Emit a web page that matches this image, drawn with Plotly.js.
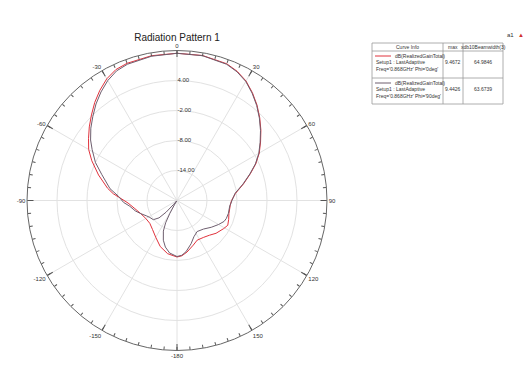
<!DOCTYPE html>
<html><head><meta charset="utf-8">
<script src="https://cdn.plot.ly/plotly-3.0.1.min.js"></script>
<style>html,body{margin:0;padding:0;background:#fff}#chart{width:532px;height:369px}</style>
</head><body><div id="chart"></div>
<script>
// ---- data (theta in degrees, gain in dB) ----
const thetaPhi0 = [-180,-170,-160,-150,-140,-130,-120,-110,-100,-93,-88,-84,-80,-72,-65,-60,-55,-50,-45,-40,-35,-30,-25,-20,-10,0,10,20,25,30,35,40,45,50,55,60,65,70,76,83,90,95,104,110,116,121,130,137,144,153,160,169,175,180];
const gainPhi0  = [-8.7,-9.2,-10.2,-11.5,-12.4,-12.9,-12.8,-12.3,-11.3,-10.2,-8.8,-7.2,-5.9,-3.5,-1.2,0.4,1.6,2.9,4.2,5.6,6.9,8.1,8.9,9.2,9.4,9.45,9.45,9.1,8.5,7.6,6.3,4.9,3.4,1.9,0.4,-1.0,-2.6,-4.4,-6.3,-8.2,-9.1,-9.3,-9.3,-9.0,-8.7,-9.1,-9.8,-10.5,-10.9,-11.1,-10.5,-9.5,-8.9,-8.7];

const thetaPhi90 = [-180,-172,-166,-161,-156,-153,-151,-149,-146,-142,-139,-137,-134,-129,-122,-117,-110,-104,-97,-92,-86,-80,-71,-65,-59,-55,-50,-45,-40,-35,-30,-25,-20,-10,0,10,20,25,30,35,40,45,50,55,60,65,70,76,83,90,96,104,110,114,120,128,137,147,155,162,170,175,180];
const gainPhi90  = [-8.8,-9.4,-10.4,-11.6,-13.3,-15.0,-17.0,-19.0,-19.9,-19.9,-19.0,-16.8,-15.0,-13.9,-13.6,-13.2,-12.3,-11.4,-10.5,-9.3,-8.3,-6.4,-4.1,-2.0,-0.2,1.1,2.5,3.8,5.2,6.5,7.7,8.6,9.0,9.3,9.44,9.4,9.0,8.4,7.5,6.2,4.8,3.3,1.8,0.3,-1.1,-2.7,-4.5,-6.4,-8.3,-9.0,-9.4,-9.4,-9.5,-9.7,-10.4,-11.3,-12.2,-12.6,-12.0,-10.9,-9.6,-9.0,-8.8];

const angTickVals = [0,30,60,90,120,150,180,210,240,270,300,330];
const angTickText = ['0','30','60','90','120','150','-180','-150','-120','-90','-60','-30'];
const radTickVals = [-14,-8,-2,4];
const radTickText = ['-14.00','-8.00','-2.00','4.00'];
const radRange = [-20,10];

const seriesNames = ["Phi='0deg'","Phi='90deg'"];
const legendHeader = ['Curve Info','max','xdb10Beamwidth(3)'];
const curveInfoLines = [
  ['dB(RealizedGainTotal)','Setup1 : LastAdaptive',"Freq='0.868GHz' Phi='0deg'"],
  ['dB(RealizedGainTotal)','Setup1 : LastAdaptive',"Freq='0.868GHz' Phi='90deg'"]
];
const maxVals = ['9.4672','9.4426'];
const beamwidthVals = ['64.9846','63.6739'];

// ---- styling ----
const W = 532, H = 369;
const colors = ['#e0323c','#6e5e6e'];
const FONT = 'Liberation Sans, Arial, sans-serif';
const px = x => x / W;
const py = y => 1 - y / H;

const domain = {x:[px(27), px(327)], y:[py(350.5), py(50.5)]};

const traces = [
  {type:'scatterpolar', subplot:'polar', mode:'lines', name:seriesNames[0], theta:thetaPhi0, r:gainPhi0,
   line:{color:colors[0], width:1}, hoverinfo:'skip'},
  {type:'scatterpolar', subplot:'polar', mode:'lines', name:seriesNames[1], theta:thetaPhi90, r:gainPhi90,
   line:{color:colors[1], width:1}, hoverinfo:'skip'},
  // empty trace that makes the minor-tick overlay subplot render
  {type:'scatterpolar', subplot:'polar2', mode:'lines', theta:[], r:[], hoverinfo:'skip'}
];

// legend table geometry
const tL = 372, tR = 503, tT = 43, tB = 104, c1 = 443, c2 = 463, hB = 51, rM = 78;
const border = {color:'#9a9a9a', width:0.8};
const shapes = [
  {type:'rect', xref:'paper', yref:'paper', x0:px(tL), x1:px(tR), y0:py(tB), y1:py(tT), line:border},
  {type:'line', xref:'paper', yref:'paper', x0:px(tL), x1:px(tR), y0:py(hB), y1:py(hB), line:border},
  {type:'line', xref:'paper', yref:'paper', x0:px(tL), x1:px(tR), y0:py(rM), y1:py(rM), line:border},
  {type:'line', xref:'paper', yref:'paper', x0:px(c1), x1:px(c1), y0:py(tB), y1:py(tT), line:border},
  {type:'line', xref:'paper', yref:'paper', x0:px(c2), x1:px(c2), y0:py(tB), y1:py(tT), line:border}
];
const ann = [];
const tf = {family:FONT, size:5, color:'#333'};
const hdrX = [(tL+c1)/2, (c1+c2)/2, (c2+tR)/2];
legendHeader.forEach((t,i)=>ann.push({xref:'paper',yref:'paper',x:px(hdrX[i]),y:py(47),text:t,showarrow:false,xanchor:'center',yanchor:'middle',font:tf}));
const rowTop = [tT+8, rM];
curveInfoLines.forEach((lines,k)=>{
  const y0 = rowTop[k] + 5, dy = 6.3;
  shapes.push({type:'line', xref:'paper', yref:'paper', x0:px(375), x1:px(391), y0:py(y0), y1:py(y0), line:{color:colors[k], width:1}});
  ann.push({xref:'paper',yref:'paper',x:px(393),y:py(y0),text:lines[0],showarrow:false,xanchor:'left',yanchor:'middle',font:tf});
  ann.push({xref:'paper',yref:'paper',x:px(374),y:py(y0+dy),text:lines[1],showarrow:false,xanchor:'left',yanchor:'middle',font:tf});
  ann.push({xref:'paper',yref:'paper',x:px(374),y:py(y0+2*dy),text:lines[2],showarrow:false,xanchor:'left',yanchor:'middle',font:tf});
  ann.push({xref:'paper',yref:'paper',x:px(hdrX[1]),y:py(y0+dy),text:maxVals[k],showarrow:false,xanchor:'center',yanchor:'middle',font:tf});
  ann.push({xref:'paper',yref:'paper',x:px(hdrX[2]),y:py(y0+dy),text:beamwidthVals[k],showarrow:false,xanchor:'center',yanchor:'middle',font:tf});
});
ann.push({xref:'paper',yref:'paper',x:px(510),y:py(35),text:'a1',showarrow:false,xanchor:'center',yanchor:'middle',font:{family:FONT,size:6,color:'#333'}});
ann.push({xref:'paper',yref:'paper',x:px(521),y:py(35),text:'▲',showarrow:false,xanchor:'center',yanchor:'middle',font:{family:FONT,size:6,color:'#d03030'}});

const layout = {
  width:W, height:H, margin:{l:0,r:0,t:0,b:0}, paper_bgcolor:'#fff', showlegend:false,
  title:{text:'Radiation Pattern 1', x:px(177), y:py(37), xanchor:'center', yanchor:'middle', xref:'paper', yref:'paper',
         font:{family:FONT, size:10, color:'#222'}},
  polar:{
    domain:domain, bgcolor:'#fff',
    angularaxis:{rotation:90, direction:'clockwise', tickmode:'array', tickvals:angTickVals, ticktext:angTickText,
      ticks:'inside', ticklen:6, tickcolor:'#555', showline:true, linecolor:'#666', linewidth:1,
      showgrid:true, gridcolor:'#e2e2e2', gridwidth:1, tickfont:{family:FONT, size:6, color:'#333'}},
    radialaxis:{range:radRange, angle:90, tickangle:90, tickmode:'array', tickvals:radTickVals, ticktext:radTickText,
      showline:false, ticks:'', gridcolor:'#e2e2e2', gridwidth:1, tickfont:{family:FONT, size:6, color:'#333'}}
  },
  polar2:{
    domain:domain, bgcolor:'rgba(0,0,0,0)',
    angularaxis:{rotation:90, direction:'clockwise', tickmode:'linear', tick0:0, dtick:5,
      ticks:'inside', ticklen:3, tickcolor:'#555', showticklabels:false, showline:false, showgrid:false},
    radialaxis:{range:radRange, visible:false, showgrid:false}
  },
  shapes:shapes, annotations:ann
};
Plotly.newPlot('chart', traces, layout, {staticPlot:true, displayModeBar:false});
</script></body></html>
